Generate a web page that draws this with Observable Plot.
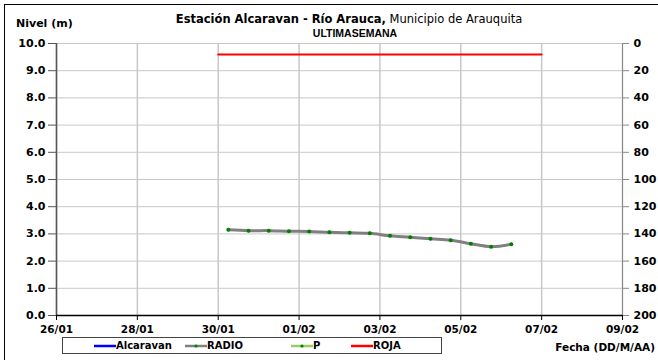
<!DOCTYPE html>
<html><head><meta charset="utf-8">
<script src="https://cdn.jsdelivr.net/npm/d3@7"></script>
<script src="https://cdn.jsdelivr.net/npm/@observablehq/plot@0.6"></script>
<style>
body{margin:0;background:#fff;font-family:"DejaVu Sans",sans-serif;}
#wrap{position:relative;width:658px;height:360px;overflow:hidden;}
#frame{position:absolute;left:4px;top:4px;width:700px;height:400px;border:1.5px solid #000;box-sizing:border-box;}
.t{position:absolute;white-space:nowrap;color:#000;line-height:1;}
.b{font-weight:bold;}
#legend{position:absolute;left:62px;top:337px;width:380px;height:17px;border:1px solid #444;box-sizing:border-box;background:#fff;}
#legend .it{position:absolute;top:0;height:15px;font-size:10px;font-weight:bold;display:flex;align-items:center;line-height:1;}
</style></head>
<body><div id="wrap"><div id="frame"></div></div>
<script>
// Data
const radioDates = ["2013-01-30T06:00","2013-01-30T18:00","2013-01-31T06:00","2013-01-31T18:00","2013-02-01T06:00","2013-02-01T18:00","2013-02-02T06:00","2013-02-02T18:00","2013-02-03T06:00","2013-02-03T18:00","2013-02-04T06:00","2013-02-04T18:00","2013-02-05T06:00","2013-02-05T18:00","2013-02-06T06:00"];
const radioLevels = [3.15, 3.12, 3.12, 3.10, 3.09, 3.06, 3.04, 3.02, 2.93, 2.88, 2.82, 2.77, 2.64, 2.53, 2.62];
const rojaDates = ["2013-01-30T00:00","2013-02-07T00:00"];
const rojaLevel = 9.6;
const xTickDates = ["2013-01-26","2013-01-28","2013-01-30","2013-02-01","2013-02-03","2013-02-05","2013-02-07","2013-02-09"];
const yTicks = [0,1,2,3,4,5,6,7,8,9,10];
const precipTicks = [0,20,40,60,80,100,120,140,160,180,200];
const precipMax = 200;
const levelMax = 10;

const parse = s => new Date(s + (s.length > 10 ? ":00Z" : "T00:00:00Z"));
const radio = radioDates.map((d,i)=>({date: parse(d), level: radioLevels[i]}));
const roja = rojaDates.map(d=>({date: parse(d), level: rojaLevel}));
const xTicks = xTickDates.map(parse);
// right axis (precipitation, inverted) mapped onto the level scale
const precipPos = precipTicks.map(p => levelMax - p/precipMax*levelMax);

const font = {fontWeight: "bold", fill: "#000"};
const chart = Plot.plot({
  width: 658, height: 360,
  marginLeft: 56, marginRight: 36, marginTop: 43, marginBottom: 45,
  style: {fontFamily: "'DejaVu Sans', sans-serif", background: "transparent", fontSize: "11px"},
  x: {type: "utc", domain: [xTicks[0], xTicks[xTicks.length-1]]},
  y: {domain: [0, levelMax]},
  marks: [
    Plot.gridY(yTicks, {stroke: "#c8c8c8", strokeOpacity: 1}),
    Plot.gridX(xTicks, {stroke: "#c8c8c8", strokeOpacity: 1, strokeWidth: 1.5}),
    Plot.axisY(yTicks, {anchor: "left", tickFormat: d3.format(".1f"), tickSize: 8, tickPadding: 3, stroke: "#555", label: null, fontSize: 11, ...font}),
    Plot.axisY(precipPos, {anchor: "right", tickFormat: (d,i) => precipTicks[i], tickSize: 6, tickPadding: 5, stroke: "#888", label: null, fontSize: 11, ...font}),
    Plot.axisX(xTicks, {anchor: "bottom", tickFormat: d3.utcFormat("%d/%m"), tickSize: 5, tickPadding: 5, stroke: "#000", label: null, fontSize: 10.5, ...font}),
    Plot.ruleX([xTicks[0]], {stroke: "#555", strokeWidth: 1.5}),
    Plot.ruleX([xTicks[xTicks.length-1]], {stroke: "#888", strokeWidth: 1}),
    Plot.ruleY([0], {stroke: "#000", strokeWidth: 1.5}),
    Plot.line(roja, {x: "date", y: "level", stroke: "#ff0000", strokeWidth: 2}),
    Plot.line(radio, {x: "date", y: "level", stroke: "#808080", strokeWidth: 3, curve: "catmull-rom"}),
    Plot.dot(radio, {x: "date", y: "level", fill: "#008000", r: 2})
  ]
});
const wrap = document.getElementById("wrap");
chart.style.position = "absolute"; chart.style.left = "0"; chart.style.top = "0";
wrap.appendChild(chart);

function addText(html, css, cls){
  const d = document.createElement("div");
  d.className = "t " + (cls||"");
  d.innerHTML = html;
  Object.assign(d.style, css);
  wrap.appendChild(d);
  return d;
}
addText('<b>Estación Alcaravan - Río Arauca,</b> Municipio de Arauquita', {left:"349px", top:"14px", fontSize:"11.5px", transform:"translateX(-50%)"});
addText('ULTIMASEMANA', {left:"355px", top:"28px", fontSize:"10.5px", fontFamily:"'Liberation Sans',Arial,sans-serif", transform:"translateX(-50%)"}, "b");
addText('Nivel (m)', {left:"16px", top:"18px", fontSize:"11px"}, "b");
addText('Fecha (DD/M/AA)', {right:"3px", top:"342px", fontSize:"10.5px"}, "b");

const legendItems = [
  {name: "Alcaravan", color: "#0000ff", dot: null, x: 31},
  {name: "RADIO", color: "#808080", dot: "#008000", x: 122},
  {name: "P", color: "#99cc66", dot: "#008000", x: 228},
  {name: "ROJA", color: "#ff0000", dot: null, x: 288}
];
const leg = document.createElement("div"); leg.id = "legend"; wrap.appendChild(leg);
legendItems.forEach(it => {
  const d = document.createElement("div"); d.className = "it"; d.style.left = it.x + "px";
  d.innerHTML = `<svg width="22" height="10"><line x1="0" x2="22" y1="5" y2="5" stroke="${it.color}" stroke-width="2.5"/>${it.dot?`<circle cx="11" cy="5" r="1.6" fill="${it.dot}"/>`:""}</svg><span>${it.name}</span>`;
  leg.appendChild(d);
});
</script></body></html>
